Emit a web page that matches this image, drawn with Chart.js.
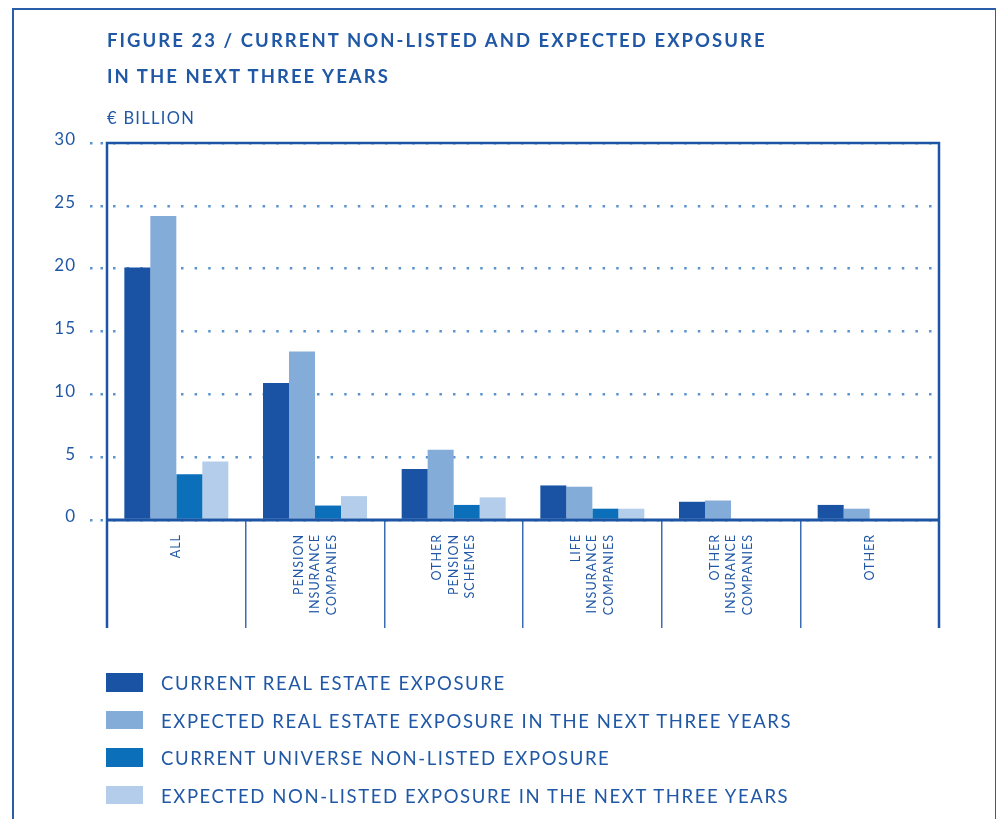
<!DOCTYPE html>
<html>
<head>
<meta charset="utf-8">
<script src="https://cdn.jsdelivr.net/npm/chart.js@4/dist/chart.umd.min.js"></script>
<style>
  body { margin: 0; background: #fff; overflow: hidden; }
  #page { position: relative; width: 996px; height: 819px; font-family: Lato, "Noto Sans", sans-serif; color: #2058a6; }
  #frame { position: absolute; left: 12px; top: 8px; width: 985px; height: 900px; box-sizing: border-box;
           border: 2.5px solid #2b5ea9; border-bottom: none; }
  canvas { position: absolute; left: 0; top: 0; }
  .title { position: absolute; left: 107px; font-weight: 700; font-size: 18.5px; letter-spacing: 2.05px; white-space: nowrap; }
  #unit { position: absolute; left: 107px; top: 108px; font-size: 16.5px; letter-spacing: 1.3px; }
  #legend { position: absolute; left: 106px; top: 673px; }
  .row { position: relative; height: 37.5px; }
  .box { position: absolute; left: 0; top: 0; width: 37px; height: 18.5px; }
  .lab { position: absolute; left: 55px; top: -1px; font-size: 18.5px; letter-spacing: 1.6px; white-space: nowrap; }
</style>
</head>
<body>
<div id="page">
  <canvas id="chart" width="996" height="819"></canvas>
  <div id="frame"></div>
  <div class="title" style="top:29px">FIGURE 23 / CURRENT NON-LISTED AND EXPECTED EXPOSURE</div>
  <div class="title" style="top:65px">IN THE NEXT THREE YEARS</div>
  <div id="unit">€ BILLION</div>
  <div id="legend"></div>
</div>
<script>
// DATA //
const categories = [
  ["", "ALL", ""],
  ["PENSION", "INSURANCE", "COMPANIES"],
  ["OTHER", "PENSION", "SCHEMES"],
  ["LIFE", "INSURANCE", "COMPANIES"],
  ["OTHER", "INSURANCE", "COMPANIES"],
  ["", "OTHER", ""]
];
const seriesNames = [
  "CURRENT REAL ESTATE EXPOSURE",
  "EXPECTED REAL ESTATE EXPOSURE IN THE NEXT THREE YEARS",
  "CURRENT UNIVERSE NON-LISTED EXPOSURE",
  "EXPECTED NON-LISTED EXPOSURE IN THE NEXT THREE YEARS"
];
const currentRealEstate = [20.1, 10.9, 4.05, 2.75, 1.45, 1.2];
const expectedRealEstate = [24.2, 13.4, 5.6, 2.65, 1.55, 0.9];
const currentNonListed = [3.65, 1.15, 1.2, 0.9, 0, 0];
const expectedNonListed = [4.65, 1.9, 1.8, 0.9, 0, 0];
const seriesColors = ["#1a53a3", "#84acd8", "#0b70b9", "#b4cdea"];
const yTicks = [0, 5, 10, 15, 20, 25, 30];

const blue = "#2058a6";
const lineBlue = "#1d55a5";
const dotBlue = "#5b93cf";
const lineHeight = 16.5;

// letter spacing on the canvas text, a canvas reset loses it so set it often
const spacing = {
  id: "spacing",
  beforeUpdate(chart) { chart.ctx.letterSpacing = "1px"; },
  beforeLayout(chart) { chart.ctx.letterSpacing = "1px"; },
  beforeDraw(chart) { chart.ctx.letterSpacing = "1px"; }
};

// plot frame: top line and left/right lines running down to the bottom of the x axis
const frame = {
  id: "frame",
  afterDraw(chart) {
    const { ctx, chartArea } = chart;
    const xs = chart.scales.x;
    ctx.save();
    ctx.strokeStyle = lineBlue;
    ctx.lineWidth = 2.5;
    ctx.beginPath();
    ctx.moveTo(chartArea.left, xs.bottom);
    ctx.lineTo(chartArea.left, chartArea.top);
    ctx.lineTo(chartArea.right, chartArea.top);
    ctx.lineTo(chartArea.right, xs.bottom);
    ctx.stroke();
    ctx.lineWidth = 3;
    ctx.beginPath();
    ctx.moveTo(chartArea.left, chartArea.bottom);
    ctx.lineTo(chartArea.right, chartArea.bottom);
    ctx.stroke();
    ctx.restore();
  }
};

const datasets = [currentRealEstate, expectedRealEstate, currentNonListed, expectedNonListed].map((d, i) => ({
  label: seriesNames[i],
  data: d,
  backgroundColor: seriesColors[i],
  categoryPercentage: 0.75,
  barPercentage: 1.0
}));

const chart = new Chart(document.getElementById("chart"), {
  type: "bar",
  data: { labels: categories, datasets: datasets },
  options: {
    responsive: false,
    animation: false,
    layout: { padding: { left: 37, right: 57, top: 143, bottom: 191 } },
    plugins: { legend: { display: false }, tooltip: { enabled: false } },
    scales: {
      x: {
        afterFit: (s) => { s.height = 108; },
        grid: { drawOnChartArea: false, offset: true, tickLength: 108, color: "#3a6cb4", lineWidth: 1.5 },
        border: { display: false },
        ticks: {
          color: blue,
          font: { family: "Lato", size: 12.5, lineHeight: lineHeight / 12.5 },
          minRotation: 90, maxRotation: 90,
          padding: -94,
          labelOffset: -lineHeight,
          autoSkip: false
        }
      },
      y: {
        min: 0, max: 30,
        afterFit: (s) => { s.width = 70; },
        afterBuildTicks: (s) => { s.ticks = yTicks.map(v => ({ value: v })); },
        grid: {
          color: dotBlue, lineWidth: 2.5,
          tickLength: 17, tickBorderDash: [2.5, 8], tickColor: dotBlue
        },
        border: { display: false, dash: [2.5, 11.1], dashOffset: 7.6 },
        ticks: {
          color: blue, padding: 14, labelOffset: -3,
          font: { family: "Lato", size: 17 }
        }
      }
    }
  },
  plugins: [spacing, frame]
});

// legend built from the same series arrays
const legend = document.getElementById("legend");
legend.innerHTML = seriesNames.map((name, i) =>
  `<div class="row"><div class="box" style="background:${seriesColors[i]}"></div><div class="lab">${name}</div></div>`
).join("");
</script>
</body>
</html>
